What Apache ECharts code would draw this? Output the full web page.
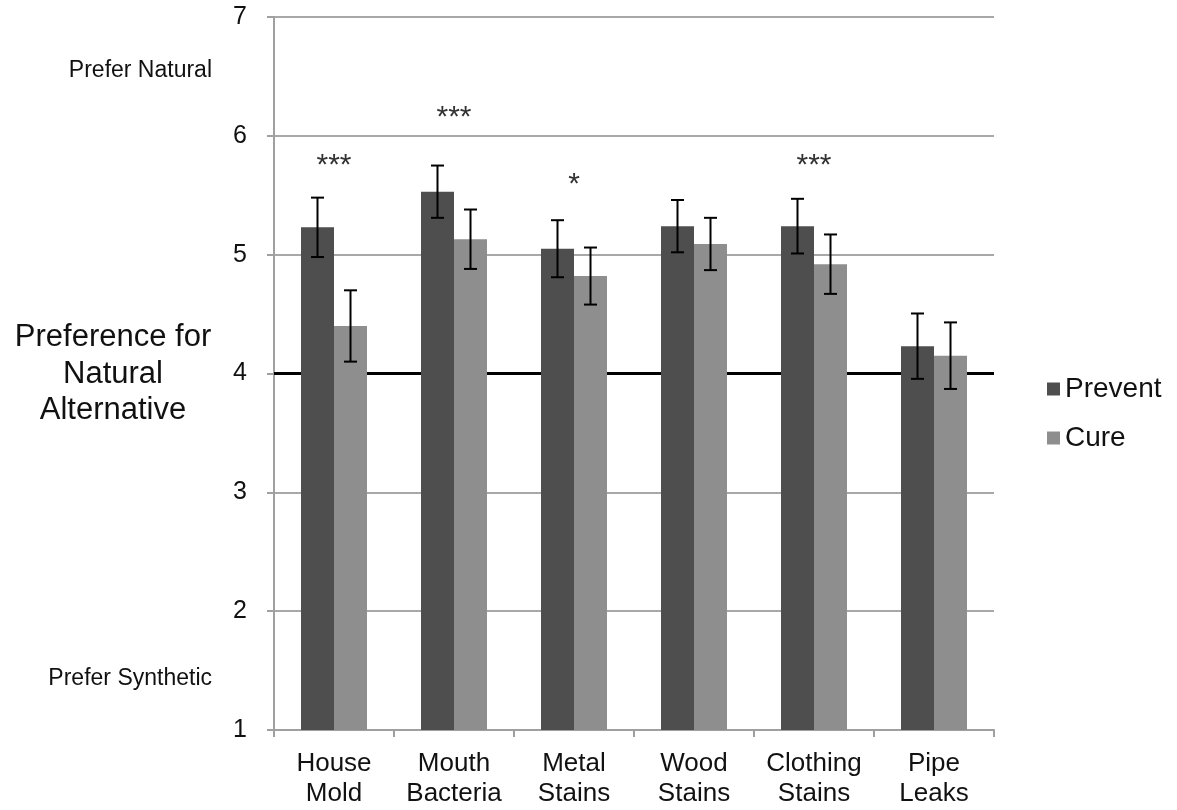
<!DOCTYPE html>
<html>
<head>
<meta charset="utf-8">
<script src="https://cdn.jsdelivr.net/npm/echarts@6/dist/echarts.min.js"></script>
<style>
  html, body { margin: 0; padding: 0; background: #fff; }
  #chart { width: 1177px; height: 810px; }
</style>
</head>
<body>
<div id="chart"></div>
<script>
// Household problems rated on a 1-7 scale (4 = no preference)
const categories = ['House\nMold', 'Mouth\nBacteria', 'Metal\nStains', 'Wood\nStains', 'Clothing\nStains', 'Pipe\nLeaks'];
const preventMeans = [5.23, 5.53, 5.05, 5.24, 5.24, 4.23];
const cureMeans    = [4.40, 5.13, 4.82, 5.09, 4.92, 4.15];
const preventErr   = [0.25, 0.22, 0.24, 0.22, 0.23, 0.275];
const cureErr      = [0.30, 0.25, 0.24, 0.22, 0.25, 0.28];
// significance markers and the height their text is anchored at
const sigMarks  = ['***', '***', '*', '', '***', ''];
const sigLevels = [5.75, 6.15, 5.59, null, 5.75, null];
const yTicks = [1, 2, 3, 4, 5, 6, 7];

const FONT = '"Liberation Sans", Arial, Helvetica, sans-serif';
const BAR_W = 33;

function errorBarItem(means, errs, side) {
  return function (params, api) {
    const i = api.value(0);
    const m = means[i], e = errs[i];
    const top = api.coord([i, m + e]);
    const bot = api.coord([i, m - e]);
    const x = top[0] + side * BAR_W / 2;
    const cap = 6.5;
    const style = { stroke: '#000', lineWidth: 2 };
    return {
      type: 'group',
      children: [
        { type: 'line', shape: { x1: x, y1: top[1], x2: x, y2: bot[1] }, style },
        { type: 'line', shape: { x1: x - cap, y1: top[1], x2: x + cap, y2: top[1] }, style },
        { type: 'line', shape: { x1: x - cap, y1: bot[1], x2: x + cap, y2: bot[1] }, style }
      ]
    };
  };
}

const chart = echarts.init(document.getElementById('chart'), null, { renderer: 'canvas' });

chart.setOption({
  animation: false,
  backgroundColor: '#fff',
  textStyle: { fontFamily: FONT },
  grid: { left: 274, right: 183, top: 17, bottom: 80 },
  legend: {
    orient: 'vertical',
    left: 1042,
    top: 370,
    icon: 'rect',
    itemWidth: 13,
    itemHeight: 13,
    itemGap: 21,
    itemStyle: { borderWidth: 0 },
    textStyle: { fontFamily: FONT, fontSize: 28, color: '#111', padding: [0, 0, 0, 0] },
    data: ['Prevent', 'Cure']
  },
  xAxis: {
    type: 'category',
    data: categories,
    axisLine: { show: true, lineStyle: { color: '#a0a0a0', width: 2 } },
    axisTick: { show: true, alignWithLabel: false, length: 7, lineStyle: { color: '#a0a0a0', width: 2 } },
    axisLabel: { fontFamily: FONT, fontSize: 26, color: '#111', lineHeight: 30, margin: 19, interval: 0 },
    splitLine: { show: false }
  },
  yAxis: {
    type: 'value',
    min: 1,
    max: 7,
    interval: 1,
    axisLine: { show: true, lineStyle: { color: '#a0a0a0', width: 2 } },
    axisTick: { show: true, inside: false, length: 7, lineStyle: { color: '#a0a0a0', width: 2 } },
    axisLabel: {
      fontFamily: FONT, fontSize: 25, color: '#111', margin: 27,
      formatter: v => (yTicks.indexOf(v) >= 0 ? String(v) : '')
    },
    splitLine: { show: true, lineStyle: { color: '#a8a8a8', width: 2 } }
  },
  graphic: [
    {
      type: 'text', x: 212, y: 71,
      style: { text: 'Prefer Natural', fontFamily: FONT, fontSize: 23, fill: '#111', align: 'right', verticalAlign: 'middle' }
    },
    {
      type: 'text', x: 212, y: 679,
      style: { text: 'Prefer Synthetic', fontFamily: FONT, fontSize: 23, fill: '#111', align: 'right', verticalAlign: 'middle' }
    },
    {
      type: 'text', x: 113, y: 374,
      style: {
        text: 'Preference for\nNatural\nAlternative',
        fontFamily: FONT, fontSize: 31, lineHeight: 36.5, fill: '#111',
        align: 'center', verticalAlign: 'middle'
      }
    }
  ],
  series: [
    {
      name: 'Prevent',
      type: 'bar',
      data: preventMeans,
      barWidth: BAR_W,
      barGap: '0%',
      itemStyle: { color: '#4e4e4e' },
      z: 2,
      markLine: {
        silent: true,
        z: 1,
        symbol: 'none',
        label: { show: false },
        lineStyle: { color: '#000', width: 3, type: 'solid' },
        data: [{ yAxis: 4 }]
      }
    },
    {
      name: 'Cure',
      type: 'bar',
      data: cureMeans,
      barWidth: BAR_W,
      barGap: '0%',
      itemStyle: { color: '#8e8e8e' },
      z: 2
    },
    {
      type: 'custom',
      renderItem: errorBarItem(preventMeans, preventErr, -1),
      data: preventMeans.map((v, i) => [i, v]),
      z: 4,
      silent: true
    },
    {
      type: 'custom',
      renderItem: errorBarItem(cureMeans, cureErr, 1),
      data: cureMeans.map((v, i) => [i, v]),
      z: 4,
      silent: true
    },
    {
      type: 'custom',
      renderItem: function (params, api) {
        const i = api.value(0);
        const p = api.coord([i, api.value(1)]);
        return {
          type: 'text',
          x: p[0], y: p[1],
          style: {
            text: sigMarks[i], fontFamily: FONT, fontSize: 30, fill: '#333',
            align: 'center', verticalAlign: 'middle'
          }
        };
      },
      data: sigLevels.map((v, i) => [i, v]).filter(d => d[1] !== null),
      z: 4,
      silent: true
    }
  ]
});
</script>
</body>
</html>
